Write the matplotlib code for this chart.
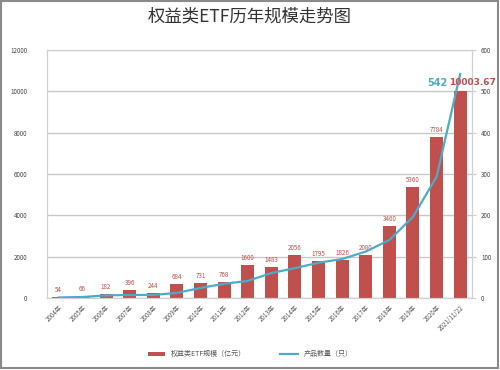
import matplotlib
matplotlib.use('Agg')
import matplotlib.pyplot as plt
import numpy as np

plt.rcParams['font.family'] = ['Noto Sans CJK SC', 'DejaVu Sans']

years = ['2004年', '2005年', '2006年', '2007年', '2008年', '2009年', '2010年', '2011年',
         '2012年', '2013年', '2014年', '2015年', '2016年', '2017年', '2018年', '2019年',
         '2020年', '2021/11/22']
scale = [54, 66, 182, 396, 244, 684, 731, 768, 1600, 1483, 2056, 1795, 1826, 2080,
         3460, 5360, 7784, 10003.67]
scale_labels = ['54', '66', '182', '396', '244', '684', '731', '768', '1600', '1483', '2056',
                '1795', '1826', '2080', '3460', '5360', '7784', '10003.67']
products = [1, 2, 6, 7, 7, 12, 24, 34, 41, 60, 72, 85, 94, 112, 140, 196, 293, 542]

bar_color = '#C0504D'
line_color = '#4BACC6'

fig = plt.figure(figsize=(5, 3.7), dpi=100)
# outer frame like the screenshot
fig.patches.append(plt.Rectangle((0.002, 0.005), 0.994, 0.992, transform=fig.transFigure,
                                 fill=False, edgecolor='#8a8a8a', linewidth=1.5))

ax = fig.add_axes([0.094, 0.195, 0.85, 0.67])
x = np.arange(len(years))
bars = ax.bar(x, scale, width=0.55, color=bar_color, zorder=2, label='权益类ETF规模（亿元）')
for i, (b, lab) in enumerate(zip(bars, scale_labels)):
    if i == len(bars) - 1:
        continue
    ax.text(b.get_x() + b.get_width() / 2, b.get_height() + 150, lab, ha='center',
            va='bottom', fontsize=4.5, color=bar_color)
ax.set_ylim(0, 12000)
ax.set_xlim(-0.5, len(years) - 0.5)
ax.set_yticks(np.arange(0, 12001, 2000))
ax.yaxis.grid(True, color='#c8c8c8', linewidth=1, zorder=0)
ax.set_axisbelow(True)
ax.tick_params(axis='y', labelsize=4.5, colors='#444444', length=0, pad=14)
ax.set_xticks(x)
ax.set_xticklabels(years, rotation=45, ha='right', rotation_mode='anchor', fontsize=4.5,
                   color='#555555')
ax.tick_params(axis='x', length=0, pad=4)
for s in ['top', 'left', 'right', 'bottom']:
    ax.spines[s].set_color('#d0d0d0')

ax2 = ax.twinx()
ax2.plot(x, products, color=line_color, linewidth=1.6, zorder=3, label='产品数量（只）')
ax2.set_ylim(0, 600)
ax2.set_yticks(np.arange(0, 601, 100))
ax2.tick_params(axis='y', labelsize=4.5, colors='#444444', length=3, color='#d0d0d0')
for s in ['top', 'left', 'right', 'bottom']:
    ax2.spines[s].set_color('#d0d0d0')

fig.text(0.874, 0.776, str(products[-1]), ha='center', va='center', fontsize=7,
         fontweight='bold', color=line_color, family='DejaVu Sans')
fig.text(0.992, 0.776, scale_labels[-1], ha='right', va='center', fontsize=6.5,
         fontweight='bold', color=bar_color, family='DejaVu Sans')

fig.text(0.5, 0.955, '权益类ETF历年规模走势图', ha='center', va='center', fontsize=12.5,
         color='#333333')

h1, l1 = ax.get_legend_handles_labels()
h2, l2 = ax2.get_legend_handles_labels()
fig.legend(h1 + h2, l1 + l2, loc='center', bbox_to_anchor=(0.5, 0.043), ncol=2,
           frameon=False, fontsize=5, handlelength=2.5, handleheight=0.5, columnspacing=5,
           labelcolor='#555555')

fig.savefig('out.png', dpi=100)
